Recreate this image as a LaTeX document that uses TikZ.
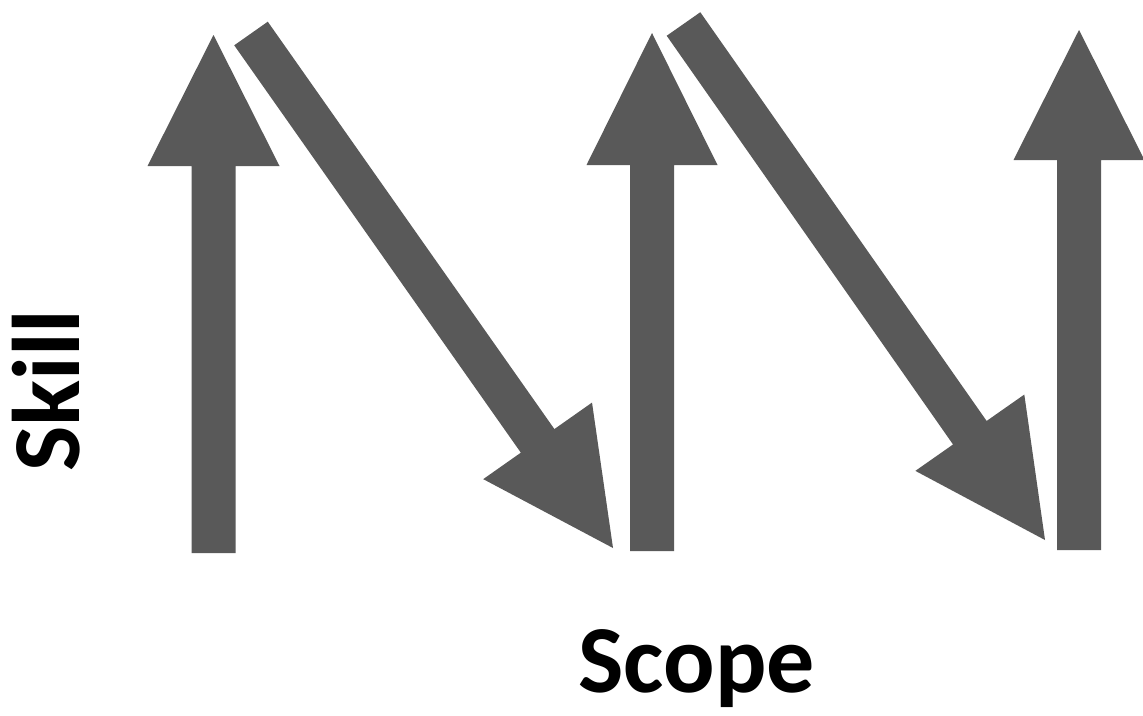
\documentclass[tikz,border=0pt]{standalone}
\usepackage{fontspec}
\setmainfont{Carlito}
\usetikzlibrary{calc}
\definecolor{arrowgray}{HTML}{595959}
\tikzset{
  arrowfill/.style={fill=arrowgray, draw=none},
  axislabel/.style={inner sep=0pt, font=\bfseries\fontsize{96}{96}\selectfont, text=black}
}
\newcommand{\uparrowshape}[5]{% center x, bottom y, head base y, head half width, tip y
  \fill[arrowfill] (#1-22,#2) -- (#1-22,#3) -- (#1-#4,#3) -- (#1,#5) -- (#1+#4,#3) -- (#1+22,#3) -- (#1+22,#2) -- cycle;
}
\newcommand{\slantarrow}[3]{% name, start, tip
  \coordinate (#1s) at #2;
  \coordinate (#1t) at #3;
  \coordinate (#1h) at ($(#1t)!131pt!(#1s)$);
  \fill[arrowfill] ($(#1s)!20.5pt!90:(#1t)$) -- ($(#1h)!20.5pt!-90:(#1s)$) -- ($(#1h)!66.5pt!-90:(#1s)$) -- (#1t)
     -- ($(#1h)!66.5pt!90:(#1s)$) -- ($(#1h)!20.5pt!90:(#1s)$) -- ($(#1s)!20.5pt!-90:(#1t)$) -- cycle;
}
\begin{document}
\begin{tikzpicture}[x=1pt,y=-1pt]
\fill[white] (0,0) rectangle (1143,715);
\useasboundingbox (0,0) rectangle (1143,715);
% vertical arrows
\uparrowshape{213.5}{553}{166}{66}{35}
\uparrowshape{652}{551}{165}{65.5}{33}
\uparrowshape{1079}{550}{160}{65.5}{30}
% slanted arrows
\slantarrow{d1}{(251,33.5)}{(613,548)}
\slantarrow{d2}{(683.5,24)}{(1045,540)}
% labels
\node[axislabel, rotate=90, anchor=base west] (skill) at (79,472) {Skill};
\node[axislabel, anchor=base west] (scope) at (578,692) {Scope};
\end{tikzpicture}
\end{document}
